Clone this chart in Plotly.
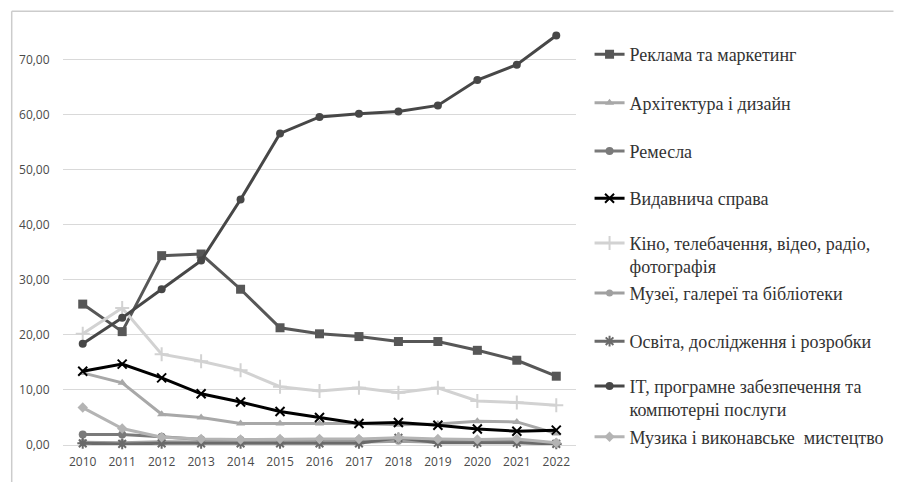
import plotly.graph_objects as go

years = [str(y) for y in range(2010, 2023)]

reklama = [25.6, 20.6, 34.4, 34.7, 28.3, 21.3, 20.2, 19.7, 18.8, 18.8, 17.2, 15.4, 12.5]
arkhitektura = [13.1, 11.3, 5.6, 5.0, 3.9, 3.9, 3.9, 3.9, 3.7, 3.8, 4.3, 4.2, 2.1]
remesla = [1.9, 1.9, 1.5, 1.0, 0.9, 0.9, 0.9, 0.9, 1.0, 0.8, 0.7, 0.8, 0.3]
vydavnycha = [13.4, 14.7, 12.2, 9.3, 7.8, 6.1, 5.0, 3.9, 4.1, 3.6, 2.9, 2.5, 2.7]
kino = [20.2, 24.9, 16.5, 15.2, 13.6, 10.6, 9.8, 10.4, 9.5, 10.4, 8.0, 7.7, 7.2]
muzei = [0.5, 0.4, 0.6, 0.5, 0.5, 0.6, 0.6, 0.5, 0.7, 0.5, 0.5, 0.5, 0.2]
osvita = [0.3, 0.2, 0.3, 0.3, 0.3, 0.3, 0.3, 0.3, 1.3, 0.4, 0.4, 0.4, 0.2]
it = [18.4, 23.1, 28.3, 33.5, 44.6, 56.6, 59.6, 60.2, 60.6, 61.7, 66.3, 69.1, 74.4]
muzyka = [6.8, 3.0, 1.4, 1.1, 1.0, 1.1, 1.1, 1.1, 1.3, 1.1, 1.0, 1.1, 0.4]

names = [
    "Реклама та маркетинг",
    "Архітектура і дизайн",
    "Ремесла",
    "Видавнича справа",
    "Кіно, телебачення, відео, радіо,<br>фотографія",
    "Музеї, галереї та бібліотеки",
    "Освіта, дослідження і розробки",
    "IT, програмне забезпечення та<br>компютерні послуги",
    "Музика і виконавське  мистецтво",
]
series = [reklama, arkhitektura, remesla, vydavnycha, kino, muzei, osvita, it, muzyka]
colors = ["#575757", "#a8a8a8", "#7a7a7a", "#000000", "#d2d2d2", "#a0a0a0", "#6a6a6a", "#474747", "#b4b4b4"]
symbols = ["square", "triangle-up", "circle", "x-thin", "cross-thin", "circle", "asterisk", "circle", "diamond"]
msizes = [9, 8, 8, 9, 10, 7, 9, 8, 8]

legend_px = [55, 104, 153, 201, 258, 297, 346, 403, 443]
PLOT_TOP, PLOT_BOTTOM = 30, 451
PLOT_LEFT, PLOT_RIGHT = 63, 593
W, H = 901, 482
PW, PH = PLOT_RIGHT - PLOT_LEFT, PLOT_BOTTOM - PLOT_TOP

fig = go.Figure()
for i, (n, s, c, sym, ms) in enumerate(zip(names, series, colors, symbols, msizes)):
    lg = "legend" if i == 0 else f"legend{i+1}"
    thin = sym.endswith("-thin") or sym == "asterisk"
    fig.add_trace(go.Scatter(
        x=years, y=s, name=n, mode="lines+markers",
        line=dict(color=c, width=3),
        marker=dict(symbol=sym, size=ms, color=c,
                    line=dict(color=c, width=2 if thin else 0)),
        legend=lg, cliponaxis=False,
    ))

layout_legends = {}
for i, py in enumerate(legend_px):
    key = "legend" if i == 0 else f"legend{i+1}"
    layout_legends[key] = dict(
        x=(607 - PLOT_LEFT) / PW, xanchor="left",
        y=(PLOT_BOTTOM - py) / PH, yanchor="middle",
        bgcolor="rgba(0,0,0,0)", borderwidth=0, valign="top",
        font=dict(family="Liberation Serif", size=18, color="#333333"),
        itemwidth=30,
    )

tickfont = dict(family="Open Sans", size=12, color="#4a4a4a")

fig.update_layout(
    width=W, height=H, autosize=False,
    margin=dict(l=PLOT_LEFT, r=W - PLOT_RIGHT, t=PLOT_TOP, b=H - PLOT_BOTTOM),
    paper_bgcolor="white", plot_bgcolor="white",
    separators=", ",
    showlegend=True,
    xaxis=dict(type="category", range=[-0.5, 12.5], showgrid=False, zeroline=False,
               showline=False, ticks="outside", ticklen=6, tickcolor="rgba(0,0,0,0)",
               tickfont=tickfont),
    yaxis=dict(range=[0, 75.4], dtick=10, tick0=0, tickformat=".2f",
               showgrid=True, gridcolor="#d9d9d9", gridwidth=1,
               zeroline=True, zerolinecolor="#d9d9d9", zerolinewidth=1,
               showline=False, ticks="outside", ticklen=10, tickcolor="rgba(0,0,0,0)",
               tickfont=tickfont),
    **layout_legends,
)

def px_x(p):
    return (p - PLOT_LEFT) / PW

def px_y(p):
    return (PLOT_BOTTOM - p) / PH

# outer chart frame (cropped at right and bottom in the reference): top and left edges
fig.add_shape(type="line", xref="paper", yref="paper",
              x0=px_x(10), x1=px_x(W + 20), y0=px_y(11), y1=px_y(11),
              line=dict(color="#cccccc", width=1.5))
fig.add_shape(type="line", xref="paper", yref="paper",
              x0=px_x(10), x1=px_x(10), y0=px_y(11), y1=px_y(H + 20),
              line=dict(color="#cccccc", width=1.5))

fig.write_html("out.html",
               config={"displayModeBar": False, "responsive": False},
               post_script="document.body.style.margin='0px';document.body.style.overflow='hidden';")
